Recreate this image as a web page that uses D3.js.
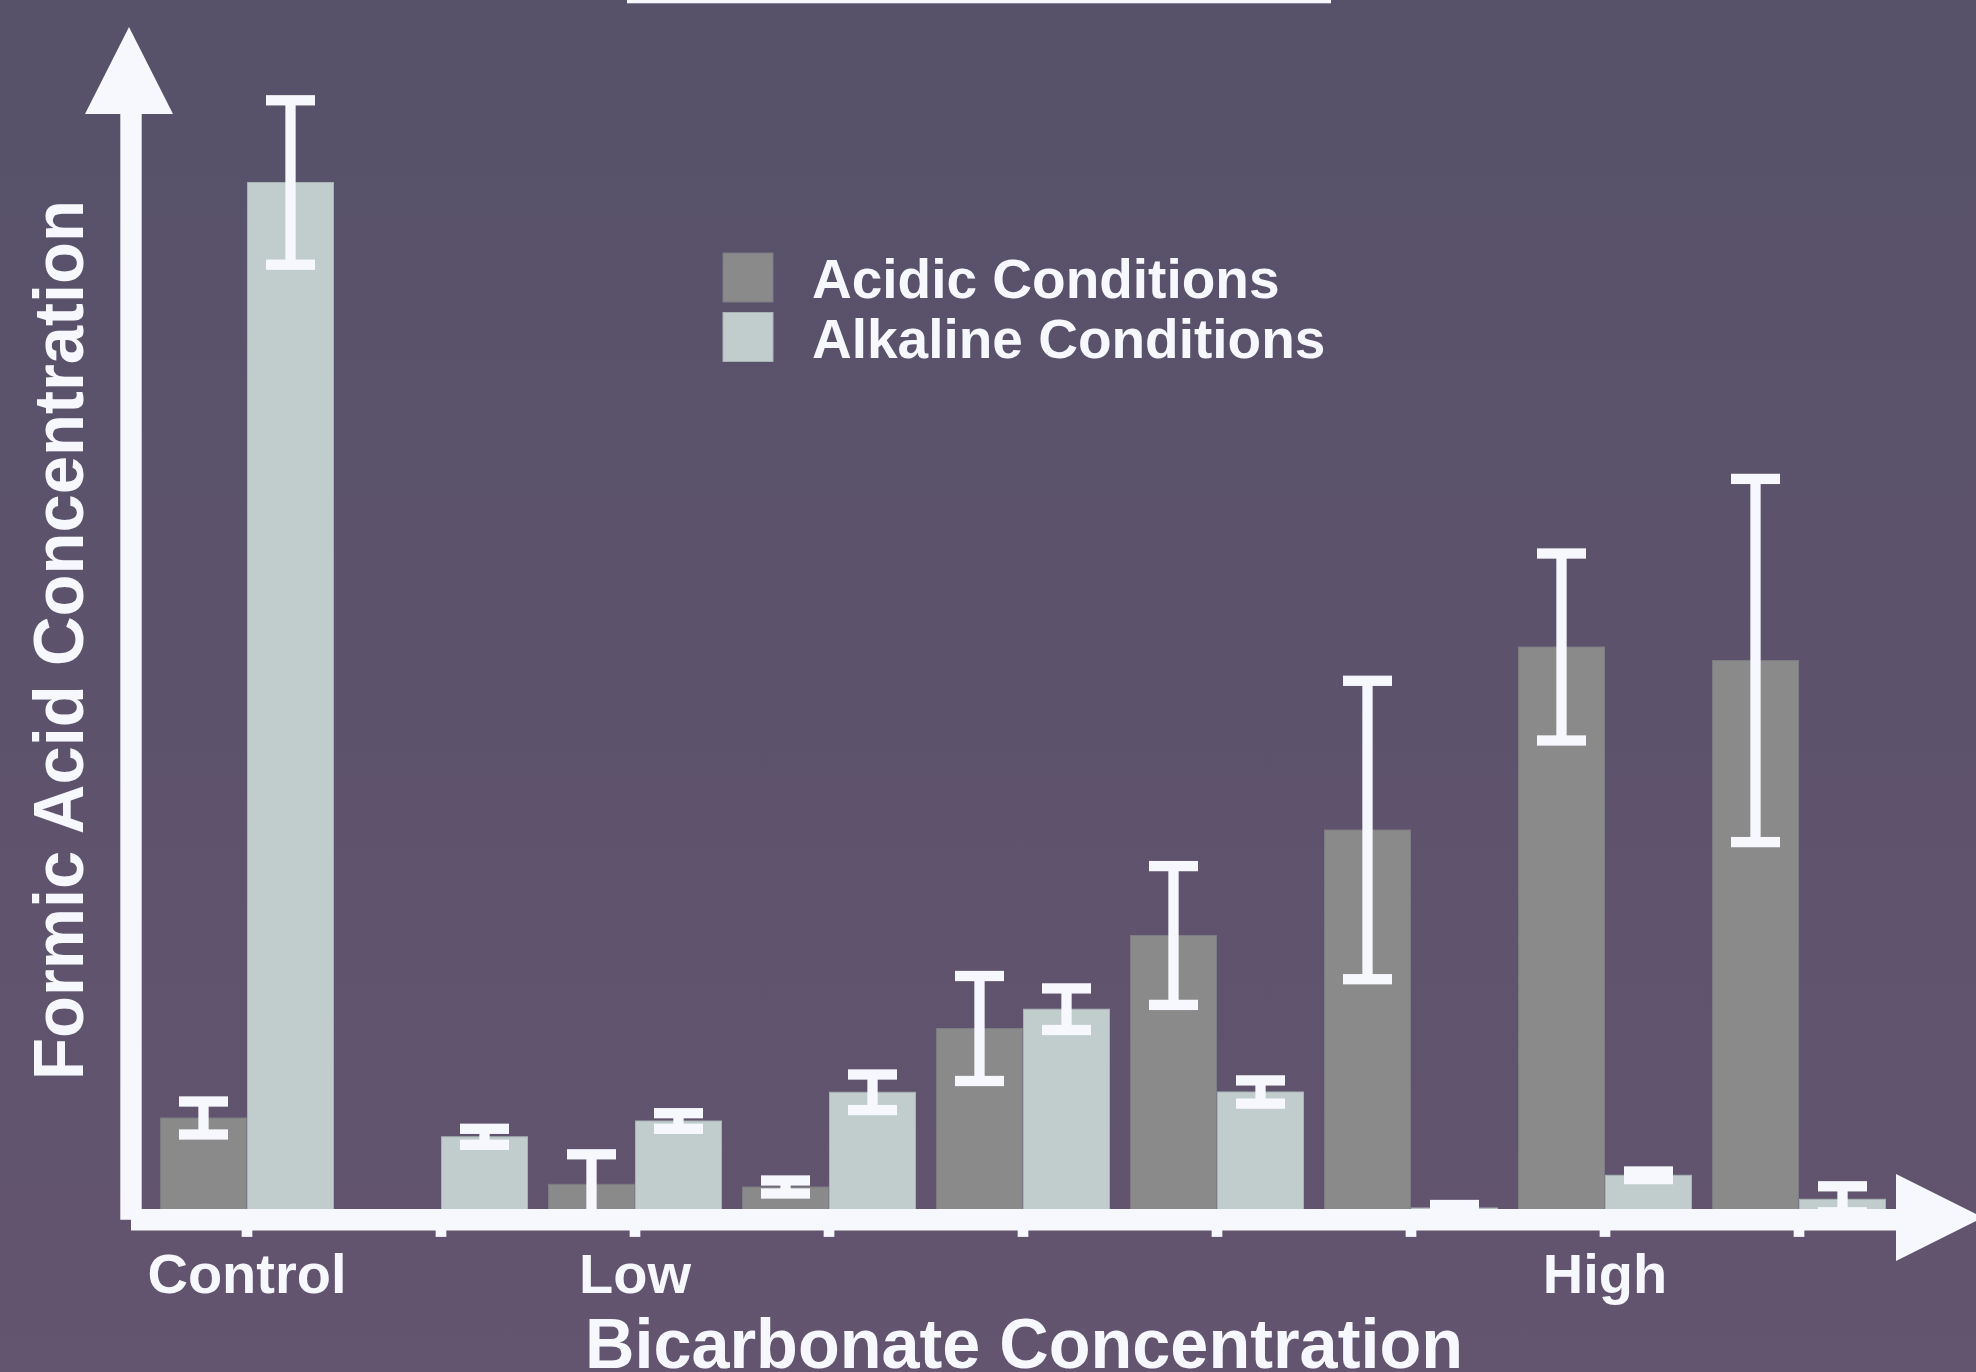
<!DOCTYPE html>
<html>
<head>
<meta charset="utf-8">
<script src="https://cdn.jsdelivr.net/npm/d3@7"></script>
<style>
  html, body { margin: 0; padding: 0; background: #5d536d; }
  svg { display: block; }
  text { font-family: "Liberation Sans", Arial, Helvetica, sans-serif; font-weight: bold; fill: #f7f8fd; }
</style>
</head>
<body>
<svg id="chart" width="1976" height="1372"></svg>
<script>
// ---- data ----
const categories = ["Control", "Level 2", "Low", "Level 4", "Level 5", "Level 6", "Level 7", "High", "Level 9"];
const tickLabels = ["Control", "", "Low", "", "", "", "", "High", ""];
const seriesNames = ["Acidic Conditions", "Alkaline Conditions"];
const acidic      = [9.1, null, 2.47, 2.2, 18.05, 27.35, 37.9, 56.2, 54.85];
const acidicErr   = [1.65, null, 3.0, 0.65, 5.25, 6.94, 14.92, 9.35, 18.16];
const alkaline    = [102.65, 7.22, 8.8, 11.67, 19.98, 11.7, 0.1, 3.37, 0.97];
const alkalineErr = [8.22, 0.8, 0.78, 1.78, 2.08, 1.16, 0.3, 0.38, 1.3];
const xTitle = "Bicarbonate Concentration";
const yTitle = "Formic Acid Concentration";

// ---- styling ----
const W = 1976, H = 1372;
const WHITE = "#f7f8fd";
const colors = ["#8a8a8a", "#c1cccc"];
const strokes = ["#7d7b83", "#a9b3b6"];

const svg = d3.select("#chart");
const defs = svg.append("defs");
const grad = defs.append("linearGradient").attr("id", "bg").attr("x1", 0).attr("y1", 0).attr("x2", 0).attr("y2", 1);
grad.append("stop").attr("offset", "0%").attr("stop-color", "#57516a");
grad.append("stop").attr("offset", "100%").attr("stop-color", "#63546f");
svg.append("rect").attr("width", W).attr("height", H).attr("fill", "url(#bg)");

// ---- scales ----
const x = d3.scaleBand().domain(categories).range([150, 1896]).paddingInner(0.103).paddingOuter(0.0515);
const xs = d3.scaleBand().domain(seriesNames).range([0, x.bandwidth()]);
const y = d3.scaleLinear().domain([0, 100]).range([1209, 209]);

const rows = [];
categories.forEach((c, i) => {
  rows.push({ cat: c, s: 0, v: acidic[i], e: acidicErr[i] });
  rows.push({ cat: c, s: 1, v: alkaline[i], e: alkalineErr[i] });
});
const data = rows.filter(d => d.v != null);

// bars
svg.append("g").selectAll("rect").data(data).join("rect")
  .attr("x", d => x(d.cat) + xs(seriesNames[d.s]) + 0.5)
  .attr("width", xs.bandwidth() - 1)
  .attr("y", d => y(d.v))
  .attr("height", d => y(0) - y(d.v) + 5)
  .attr("fill", d => colors[d.s])
  .attr("stroke", d => strokes[d.s])
  .attr("stroke-width", 1);

// error bars
const capW = 49, capT = 10.3, stemW = 10.3;
const eg = svg.append("g").selectAll("g").data(data.filter(d => d.e != null)).join("g")
  .attr("transform", d => `translate(${x(d.cat) + xs(seriesNames[d.s]) + xs.bandwidth() / 2},0)`);
eg.append("rect")
  .attr("x", -stemW / 2).attr("width", stemW)
  .attr("y", d => y(d.v + d.e)).attr("height", d => y(d.v - d.e) - y(d.v + d.e))
  .attr("fill", WHITE);
eg.append("rect")
  .attr("x", -capW / 2).attr("width", capW)
  .attr("y", d => y(d.v + d.e) - capT / 2).attr("height", capT)
  .attr("fill", WHITE);
eg.append("rect")
  .attr("x", -capW / 2).attr("width", capW)
  .attr("y", d => y(d.v - d.e) - capT / 2).attr("height", capT)
  .attr("fill", WHITE);

// ---- axes ----
const axW = 21.4;
const axX = 131, axY = y(0) + axW / 2;
// y axis shaft + arrow
svg.append("line").attr("x1", axX).attr("x2", axX).attr("y1", axY).attr("y2", 112)
  .attr("stroke", WHITE).attr("stroke-width", axW);
svg.append("polygon").attr("points", `${axX - 2},27 ${axX - 46},114 ${axX + 42},114`).attr("fill", WHITE);
// x axis shaft + arrow
svg.append("line").attr("x1", axX).attr("x2", 1898).attr("y1", axY).attr("y2", axY)
  .attr("stroke", WHITE).attr("stroke-width", axW);
svg.append("polygon").attr("points", `1896,1174 1983,1217.5 1896,1261`).attr("fill", WHITE);

// ticks and labels
const xAxis = d3.axisBottom(x).tickSize(7).tickSizeOuter(0).tickPadding(16)
  .tickFormat((d, i) => tickLabels[i]);
const gx = svg.append("g").attr("transform", `translate(0,${axY + axW / 2 - 0.5})`).call(xAxis);
gx.select(".domain").remove();
gx.selectAll(".tick line").attr("stroke", WHITE).attr("stroke-width", 10.7);
gx.selectAll(".tick text").attr("fill", WHITE).attr("font-size", 56)
  .attr("font-family", '"Liberation Sans", Arial, sans-serif').attr("font-weight", "bold");

// axis titles
svg.append("text").attr("x", 1024).attr("y", 1368).attr("text-anchor", "middle")
  .attr("font-size", 70).attr("textLength", 878).attr("lengthAdjust", "spacingAndGlyphs").text(xTitle);
svg.append("text").attr("transform", "translate(83,640) rotate(-90)").attr("text-anchor", "middle")
  .attr("font-size", 71).attr("textLength", 880).attr("lengthAdjust", "spacingAndGlyphs").text(yTitle);

// legend
const lg = svg.append("g").selectAll("g").data(seriesNames).join("g")
  .attr("transform", (d, i) => `translate(723,${253 + i * 59.5})`);
lg.append("rect").attr("width", 50).attr("height", 49).attr("fill", (d, i) => colors[i])
  .attr("stroke", (d, i) => strokes[i]).attr("stroke-width", 1);
lg.append("text").attr("x", 89).attr("y", 45).attr("font-size", 55).text(d => d);

// top decoration bar
svg.append("rect").attr("x", 627).attr("y", 0).attr("width", 704).attr("height", 3.3).attr("fill", WHITE);
</script>
</body>
</html>
